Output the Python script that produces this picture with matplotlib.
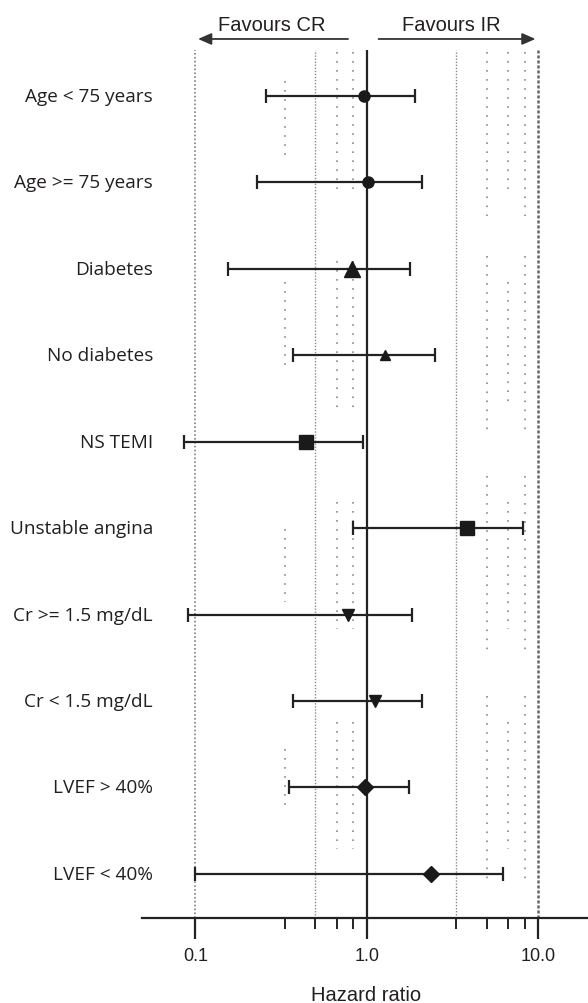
import matplotlib
matplotlib.use("Agg")
import matplotlib.pyplot as plt
import numpy as np

# subgroup hazard ratios with 95% CI
labels = ["Age < 75 years", "Age >= 75 years", "Diabetes", "No diabetes",
          "NS TEMI", "Unstable angina", "Cr >= 1.5 mg/dL", "Cr < 1.5 mg/dL",
          "LVEF > 40%", "LVEF < 40%"]
hr = [0.96, 1.01, 0.82, 1.28, 0.44, 3.83, 0.78, 1.12, 0.98, 2.37]
ci_low = [0.26, 0.23, 0.155, 0.37, 0.086, 0.835, 0.091, 0.37, 0.35, 0.099]
ci_high = [1.92, 2.10, 1.79, 2.49, 0.95, 8.19, 1.83, 2.10, 1.76, 6.21]
markers = ["o", "o", "^", "^", "s", "s", "v", "v", "D", "D"]
msizes = [8, 8, 11.5, 7.5, 9.5, 9.5, 8.5, 8.5, 8.5, 8.5]

major_ticks = [0.1, 1.0, 10.0]
major_labels = ["0.1", "1.0", "10.0"]
minor_ticks = [1/3, 0.5, 2/3, 5/6, 10/3, 5.0, 20/3, 25/3]

# broken dotted guide lines (row units, top row = 0)
guide_segments = {
    1/3: [(-0.17, 0.76), (2.15, 3.19), (5.01, 5.85), (7.55, 8.28)],
    2/3: [(-0.51, 1.08), (1.91, 3.62), (4.70, 6.17), (7.24, 8.71)],
    5/6: [(-0.51, 1.08), (1.91, 3.62), (4.70, 6.17), (7.24, 8.71)],
    5.0: [(-0.51, 1.39), (1.85, 3.93), (4.40, 6.48), (6.94, 9.12)],
    20/3: [(-0.51, 1.08), (2.15, 3.56), (4.70, 6.17), (7.24, 8.71)],
    25/3: [(-0.51, 1.39), (1.85, 3.93), (4.40, 6.48), (6.94, 9.12)],
}

plt.rcParams['lines.scale_dashes'] = False
plt.rcParams['font.family'] = ['Liberation Sans', 'DejaVu Sans']

fig = plt.figure(figsize=(5.88, 10.04), dpi=100)
ax = fig.add_axes([142/588, 85/1004, 446/588, 868/1004])
ax.set_xscale("log")
ax.set_xlim(0.0489, 19.5)
ax.set_ylim(9.51, -0.532)

grey = "#8a8a8a"
ink = "#222222"

# guide lines
ax.axvline(0.1, color=grey, lw=1.3, ls=(0, (1.2, 1.6)), zorder=1)
ax.axvline(10.0, color="#666666", lw=1.8, ls=(0, (2.2, 1.4)), zorder=1)
for xv in [0.5, 10/3]:
    ax.axvline(xv, color=grey, lw=1.0, ls=(0, (1.0, 1.2)), zorder=1)
for xv, segs in guide_segments.items():
    for y0, y1 in segs:
        ax.plot([xv, xv], [y0, y1], color=grey, lw=1.2, ls=(0, (1.2, 5.3)), zorder=1)

ax.axvline(1.0, color=ink, lw=1.6, zorder=2)

rows = np.arange(len(labels))
for i in rows:
    ax.errorbar(hr[i], i, xerr=[[hr[i] - ci_low[i]], [ci_high[i] - hr[i]]],
                fmt=markers[i], ms=msizes[i], color="#1a1a1a", ecolor=ink,
                elinewidth=1.6, capsize=4.7, capthick=1.6, zorder=3)
    ax.text(11/446, i, labels[i], transform=ax.get_yaxis_transform(),
            ha="right", va="center", fontsize=13.7, color="#231f20",
            family=["Open Sans", "DejaVu Sans"])

# axis styling
for s in ["left", "top", "right"]:
    ax.spines[s].set_visible(False)
ax.spines["bottom"].set_linewidth(1.6)
ax.spines["bottom"].set_color(ink)
ax.set_yticks([])
ax.set_xticks(major_ticks)
ax.set_xticklabels(major_labels)
ax.set_xticks(minor_ticks, minor=True)
ax.set_xticklabels([], minor=True)
ax.tick_params(axis="x", which="major", length=15, width=1.6, color=ink,
               labelsize=13, pad=6, labelcolor="#231f20")
ax.tick_params(axis="x", which="minor", length=8, width=1.4, color=ink)

# favours arrows
arrow = dict(arrowstyle="-|>,head_length=0.8,head_width=0.35", color="#333333", lw=1.3)
ax.annotate("", xy=(0.1, 1.0127), xytext=(0.807, 1.0127),
            xycoords=("data", "axes fraction"), textcoords=("data", "axes fraction"),
            arrowprops=arrow, annotation_clip=False)
ax.annotate("", xy=(10.0, 1.0127), xytext=(1.128, 1.0127),
            xycoords=("data", "axes fraction"), textcoords=("data", "axes fraction"),
            arrowprops=arrow, annotation_clip=False)
ax.text(0.279, 1.029, "Favours CR", transform=ax.get_xaxis_transform(),
        ha="center", va="center", fontsize=14.5, color="#231f20")
ax.text(3.13, 1.029, "Favours IR", transform=ax.get_xaxis_transform(),
        ha="center", va="center", fontsize=14.5, color="#231f20")

fig.text(366/588, 3/1004, "Hazard ratio", ha="center", va="baseline",
         fontsize=14.5, color="#231f20")

fig.savefig("out.png", dpi=100)
